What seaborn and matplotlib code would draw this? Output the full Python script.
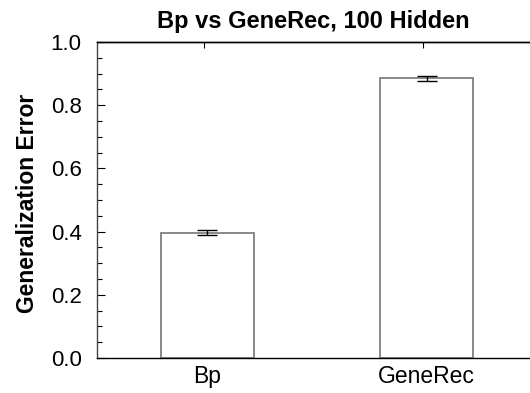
import matplotlib
matplotlib.use("Agg")
import matplotlib.pyplot as plt
import seaborn as sns
import pandas as pd
import numpy as np
from matplotlib.ticker import MultipleLocator

categories = ["Bp", "GeneRec"]
values = [0.396, 0.885]
errors = [0.008, 0.0075]
yticks = [0.0, 0.2, 0.4, 0.6, 0.8, 1.0]
ytick_labels = ["0.0", "0.2", "0.4", "0.6", "0.8", "1.0"]

sns.set_style("ticks")
plt.rcParams['font.family'] = ['Liberation Sans', 'DejaVu Sans']
plt.rcParams.update({"text.color": "black", "axes.labelcolor": "black",
                     "xtick.color": "black", "ytick.color": "black"})

df = pd.DataFrame({"model": categories, "err": values})

fig = plt.figure(figsize=(5.30, 3.93), dpi=100)
ax = fig.add_axes([97/530, 1 - 358/393, 1 - 97/530, (358 - 42)/393])

sns.barplot(data=df, x="model", y="err", ax=ax, color="white",
            edgecolor="#808080", linewidth=1.3, width=0.425, errorbar=None)
ax.errorbar(x=np.arange(len(categories)), y=values, yerr=errors, fmt="none",
            ecolor="black", elinewidth=1, capsize=7.5, capthick=1, zorder=5)

ax.set_xlim(-0.503, 1.471)
ax.set_ylim(0, 1.0)
ax.set_yticks(yticks)
ax.set_yticklabels(ytick_labels)
ax.yaxis.set_minor_locator(MultipleLocator(0.05))
ax.tick_params(axis="y", which="both", direction="in", right=False, labelsize=16, pad=11,
               colors="black")
ax.tick_params(axis="y", which="major", length=6, width=0.8)
ax.tick_params(axis="y", which="minor", length=3.3, width=0.8)
ax.tick_params(axis="x", direction="in", top=False, length=4, width=0.8, labelsize=16.5, pad=5,
               colors="black")

# top ticks (slightly offset as in source chart)
sec = ax.secondary_xaxis("top")
sec.set_xticks(np.arange(len(categories)) - 0.015)
sec.tick_params(axis="x", direction="in", length=4, width=0.8, labeltop=False, colors="black")
sec.spines["top"].set_linewidth(1.0)
sec.spines["top"].set_color("black")

for s in ["left", "top", "bottom"]:
    ax.spines[s].set_visible(True)
    ax.spines[s].set_linewidth(1.0)
    ax.spines[s].set_color("black")
ax.spines["right"].set_visible(False)
ax.spines["left"].set_color("#444444")

ax.set_xlabel("")
ax.set_ylabel("Generalization Error", fontsize=16.5, fontweight="bold", color="black")
ax.yaxis.set_label_coords(-0.135, 0.49)
ax.set_title("Bp vs GeneRec, 100 Hidden", fontsize=17, fontweight="bold", pad=10, color="black")

fig.savefig("out.png", dpi=100)
